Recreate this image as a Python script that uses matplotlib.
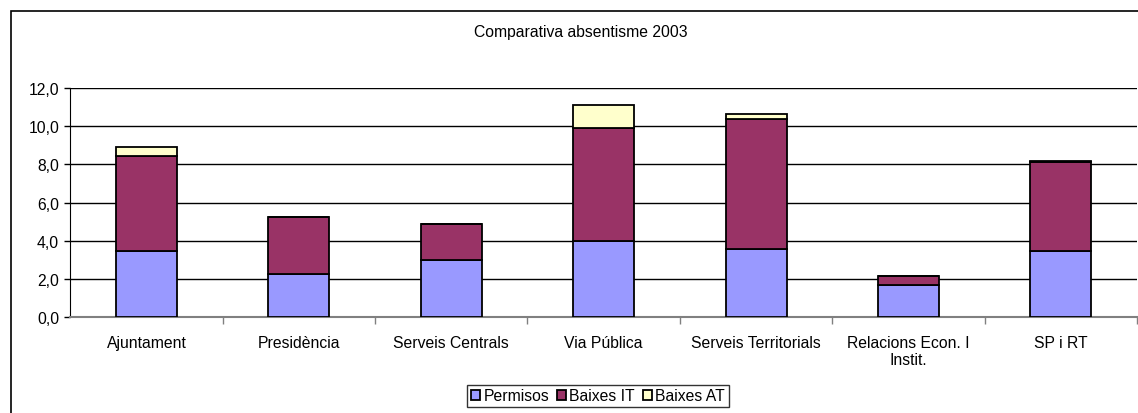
import matplotlib
matplotlib.use("Agg")
import matplotlib.pyplot as plt
from matplotlib.patches import Rectangle
import numpy as np

plt.rcParams['font.family'] = ['Liberation Sans', 'DejaVu Sans']

categories = ["Ajuntament", "Presidència", "Serveis Centrals", "Via Pública",
              "Serveis Territorials", "Relacions Econ. I\nInstit.", "SP i RT"]
permisos = [3.47, 2.23, 2.98, 3.98, 3.56, 1.68, 3.45]
baixes_it = [4.99, 2.99, 1.91, 5.94, 6.83, 0.46, 4.70]
baixes_at = [0.44, 0.0, 0.0, 1.20, 0.24, 0.0, 0.03]
series_names = ["Permisos", "Baixes IT", "Baixes AT"]
colors = ["#9999FF", "#993366", "#FFFFCC"]
yticks = [0, 2, 4, 6, 8, 10, 12]

FS = 11.3

fig = plt.figure(figsize=(11.38, 4.14), dpi=100)
# outer chart frame
fig.patches.append(Rectangle((11/1138, -0.1), 1.2, (414-12)/414 + 0.1,
                             transform=fig.transFigure, fill=False,
                             edgecolor='black', linewidth=1.2, zorder=0))

ax = fig.add_axes([70.3/1138, 96.3/414, (1137-70.3)/1138, (317.7-89.3)/414])
x = np.arange(len(categories))
w = 0.40
bottom = np.zeros(len(categories))
for vals, name, c in zip([permisos, baixes_it, baixes_at], series_names, colors):
    ax.bar(x, vals, w, bottom=bottom, color=c, edgecolor='black', linewidth=1.3,
           label=name, zorder=3)
    bottom = bottom + np.array(vals)

ax.set_xlim(-0.5, len(categories) - 0.5)
ax.set_ylim(0, 12)
ax.set_yticks(yticks)
ax.set_yticklabels([f"{v:.1f}".replace('.', ',') for v in yticks], fontsize=FS)
ax.yaxis.grid(True, color='black', linewidth=1.0, zorder=0)
ax.set_axisbelow(True)
ax.set_xticks(x)
ax.set_xticklabels(categories, fontsize=FS)
ax.tick_params(axis='x', length=0, pad=13)
ax.tick_params(axis='y', length=4, color='black', direction='out', width=1, pad=4)
ax.set_xticks(np.arange(0.5, len(categories), 1), minor=True)
ax.tick_params(axis='x', which='minor', length=5, color='gray', width=1)
for s in ['top', 'right']:
    ax.spines[s].set_visible(False)
ax.spines['left'].set_color('black')
ax.spines['bottom'].set_color('gray')
ax.spines['bottom'].set_linewidth(1.5)

fig.text(581/1138, 1 - 32/414, "Comparativa absentisme 2003", ha='center', va='center', fontsize=FS)

handles, labels = ax.get_legend_handles_labels()
leg = fig.legend(handles, labels, loc='center', bbox_to_anchor=(598/1138, 1 - 397/414),
                 ncol=3, fontsize=FS, frameon=True, fancybox=False, handlelength=0.6,
                 handleheight=0.6, handletextpad=0.2, columnspacing=0.5, borderpad=0.25,
                 borderaxespad=0)
leg.get_frame().set_edgecolor('black')
leg.get_frame().set_linewidth(1.0)

fig.savefig("out.png", dpi=100)
